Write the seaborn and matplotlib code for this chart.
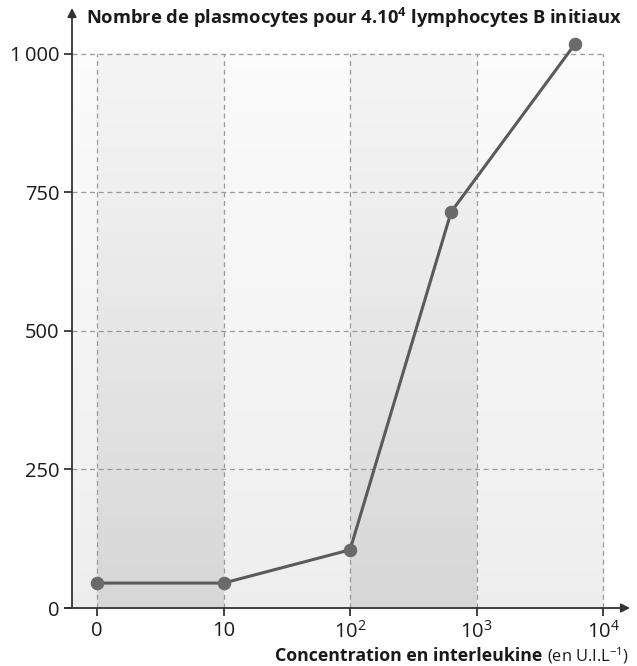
import numpy as np
import pandas as pd
import seaborn as sns
import matplotlib.pyplot as plt

# -------------------------------
# Data
# -------------------------------
tick_values = [0, 10, 100, 1000, 10000]
tick_labels = ["0", "10", "10$^2$", "10$^3$", "10$^4$"]
concentration = [0, 10, 100, 630, 6000]        # U.I.L-1
plasmocytes = [45, 45, 105, 715, 1018]
y_ticks = [0, 250, 500, 750, 1000]
y_labels = ["0", "250", "500", "750", "1\u2009000"]


def position(c):
    # 0, then one step per decade (same spacing as on the paper)
    return 0.0 if c == 0 else float(np.log10(c))


df = pd.DataFrame({
    "pos": [position(c) for c in concentration],
    "plasmocytes": plasmocytes,
})
tick_pos = [position(v) for v in tick_values]

sns.set_theme(style="white")
plt.rcParams["font.family"] = ["Open Sans", "DejaVu Sans"]
plt.rcParams["mathtext.fontset"] = "custom"
plt.rcParams["mathtext.rm"] = "Open Sans"
plt.rcParams["mathtext.bf"] = "Open Sans:bold"
plt.rcParams["mathtext.default"] = "regular"

fig = plt.figure(figsize=(6.37, 6.66), dpi=100)
ax = fig.add_axes([72 / 637, 58 / 666, 558 / 637, 600 / 666])
ax.set_xlim(-0.198, 4.213)
ax.set_ylim(0, 1083)

# background: light grey fading upwards, darker bands 0-10 and 10^2-10^3
grad = np.linspace(0, 1, 256).reshape(-1, 1)
x0, x4 = ax.get_xlim()[0], tick_pos[-1]
ax.imshow(grad, extent=[x0, x4, 0, y_ticks[-1]], origin="lower", aspect="auto",
          cmap="Greys_r", vmin=-8, vmax=1.3, zorder=0)
for a, b in [(tick_pos[0], tick_pos[1]), (tick_pos[2], tick_pos[3])]:
    ax.imshow(grad, extent=[a, b, 0, y_ticks[-1]], origin="lower", aspect="auto",
              cmap="Greys_r", vmin=-4.2, vmax=1.5, zorder=0.5)

# dashed grid
ax.hlines(y_ticks[1:], x0, x4, colors="#9a9a9a", linestyles=(0, (4, 3)),
          linewidth=0.9, zorder=1)
ax.vlines(tick_pos, 0, y_ticks[-1], colors="#9a9a9a", linestyles=(0, (4, 3)),
          linewidth=0.9, zorder=1)

# curve
sns.lineplot(data=df, x="pos", y="plasmocytes", ax=ax, color="#5a5a5a",
             linewidth=2.2, marker="o", markersize=9, markerfacecolor="#6a6a6a",
             markeredgecolor="#6a6a6a", zorder=3)

# axes with arrows
for s in ax.spines.values():
    s.set_visible(False)
ax.annotate("", xy=(1.0, 0), xytext=(-0.013, 0), xycoords="axes fraction",
            arrowprops=dict(arrowstyle="-|>", color="#333333", lw=1.3,
                            mutation_scale=13, shrinkA=0, shrinkB=0))
ax.annotate("", xy=(0, 1.0), xytext=(0, 0), xycoords="axes fraction",
            arrowprops=dict(arrowstyle="-|>", color="#333333", lw=1.3,
                            mutation_scale=13, shrinkA=0, shrinkB=0))

ax.set_xticks(tick_pos)
ax.set_xticklabels(tick_labels)
ax.set_yticks(y_ticks)
ax.set_yticklabels(y_labels)
ax.tick_params(axis="both", direction="out", length=6, width=1.3,
               color="#333333", labelsize=14.5, labelcolor="#1a1a1a",
               bottom=True, left=True, pad=3)
ax.set_xlabel("")
ax.set_ylabel("")

fig.text(86 / 637, 1 - 18 / 666, "Nombre de plasmocytes pour 4.10$^4$ lymphocytes B initiaux",
         fontsize=13.2, fontweight="bold", color="#1a1a1a", va="center", ha="left")
fig.text(542 / 637, 1 - 661 / 666, "Concentration en interleukine",
         fontsize=12.8, fontweight="bold", color="#1a1a1a", va="baseline", ha="right")
fig.text(547 / 637, 1 - 661 / 666, "(en U.I.L$^{-1}$)",
         fontsize=11.8, color="#1a1a1a", va="baseline", ha="left")

fig.savefig("out.png", dpi=100, facecolor="white")
